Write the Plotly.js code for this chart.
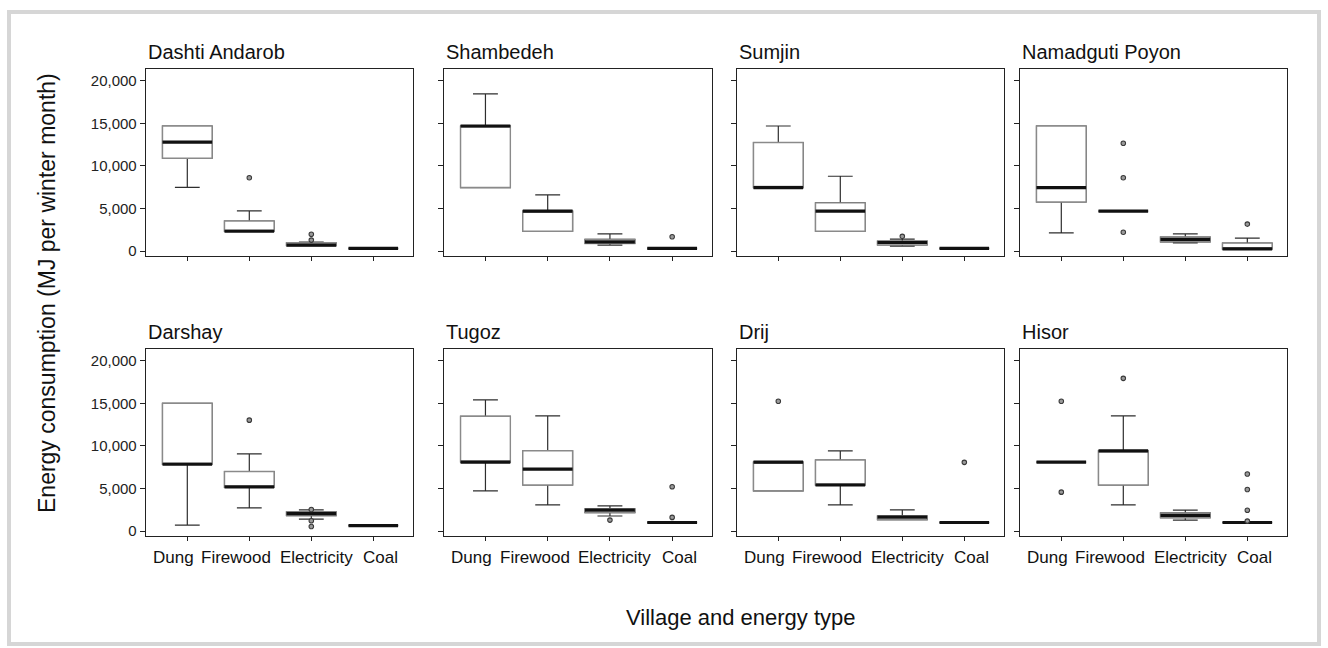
<!DOCTYPE html>
<html>
<head>
<meta charset="utf-8">
<script src="https://cdn.plot.ly/plotly-3.0.1.min.js"></script>
<style>html,body{margin:0;padding:0;background:#fff;}#chart{width:1328px;height:648px;}</style>
</head>
<body>
<div id="chart"></div>
<script>
// ---------- data ----------
const villages = ['Dashti Andarob','Shambedeh','Sumjin','Namadguti Poyon','Darshay','Tugoz','Drij','Hisor'];
const energyTypes = ['Dung','Firewood','Electricity','Coal'];
const yTickValues = [0, 5000, 10000, 15000, 20000];
const yTickLabels = ['0','5,000','10,000','15,000','20,000'];

// per village: [Dung, Firewood, Electricity, Coal]
const lowerWhisker = [
  [7480, 2320, 640, 300],
  [7450, 2320, 680, 300],
  [7450, 2320, 560, 300],
  [2120, 4680, 960, 240],
  [680, 2720, 1400, 640],
  [4720, 3080, 1760, 1000],
  [4720, 3080, 1320, 1000],
  [8090, 3080, 1280, 1000]
];
const quartile1 = [
  [10890, 2320, 640, 300],
  [7450, 2320, 880, 300],
  [7450, 2320, 720, 300],
  [5760, 4680, 1080, 240],
  [7840, 5120, 1800, 640],
  [8090, 5400, 2160, 1000],
  [4720, 5400, 1320, 1000],
  [8090, 5400, 1560, 1000]
];
const medians = [
  [12780, 2320, 680, 300],
  [14680, 4680, 1080, 300],
  [7450, 4680, 1000, 300],
  [7450, 4680, 1360, 240],
  [7840, 5180, 2040, 640],
  [8090, 7270, 2440, 1000],
  [8090, 5400, 1640, 1000],
  [8090, 9420, 1840, 1000]
];
const quartile3 = [
  [14680, 3520, 960, 300],
  [14680, 4680, 1360, 300],
  [12740, 5650, 1160, 300],
  [14680, 4680, 1640, 920],
  [15000, 6980, 2240, 640],
  [13470, 9420, 2600, 1000],
  [8090, 8340, 1760, 1000],
  [8090, 9420, 2120, 1000]
];
const upperWhisker = [
  [14680, 4720, 1040, 300],
  [18450, 6580, 2000, 300],
  [14680, 8780, 1400, 300],
  [14680, 4680, 2000, 1520],
  [15000, 9060, 2480, 640],
  [15400, 13510, 2960, 1000],
  [8090, 9420, 2480, 1000],
  [8090, 13510, 2440, 1000]
];
// outliers per village
const outlierTypes = [
  ['Firewood','Electricity','Electricity'],
  ['Coal'],
  ['Electricity'],
  ['Firewood','Firewood','Firewood','Coal'],
  ['Firewood','Electricity','Electricity','Electricity'],
  ['Electricity','Coal','Coal'],
  ['Dung','Coal'],
  ['Dung','Dung','Firewood','Coal','Coal','Coal','Coal']
];
const outlierValues = [
  [8600, 1280, 1960],
  [1680],
  [1720],
  [12660, 8600, 2200, 3160],
  [13020, 2520, 1200, 520],
  [1280, 1600, 5200],
  [15240, 8060],
  [15240, 4560, 17930, 6690, 4880, 2440, 1160]
];

// ---------- layout geometry (pixels) ----------
const W = 1328, H = 648;
const colPx = [[146,413],[444,712],[737,1004],[1020,1287]];
const rowPx = [[69,256],[349,536]];
const px = v => v / W;
const py = v => 1 - v / H;
const labelShift = [-14, -13, 5, 7];

const FONT = 'Liberation Sans, Arial, Helvetica, sans-serif';

const traces = [];
const layout = {
  width: W, height: H,
  margin: {l:0, r:0, t:0, b:0},
  paper_bgcolor: '#ffffff',
  plot_bgcolor: '#ffffff',
  showlegend: false,
  boxmode: 'overlay',
  font: {family: FONT, color: '#222'},
  annotations: [],
  shapes: [{
    type: 'rect', xref: 'paper', yref: 'paper',
    x0: px(9), x1: px(1319), y0: py(644), y1: py(12),
    line: {color: '#d6d6d6', width: 4}
  }]
};

villages.forEach((name, i) => {
  const r = Math.floor(i / 4), c = i % 4;
  const n = i + 1;
  const xa = n === 1 ? 'x' : 'x' + n;
  const ya = n === 1 ? 'y' : 'y' + n;
  const xKey = n === 1 ? 'xaxis' : 'xaxis' + n;
  const yKey = n === 1 ? 'yaxis' : 'yaxis' + n;

  layout[xKey] = {
    domain: [px(colPx[c][0]), px(colPx[c][1])],
    anchor: ya,
    type: 'category',
    categoryorder: 'array',
    categoryarray: energyTypes,
    range: [-0.666, 3.64],
    showline: true, mirror: true, linecolor: '#222', linewidth: 1.3,
    ticks: 'outside', ticklen: 4, tickcolor: '#222', tickwidth: 1,
    showgrid: false, zeroline: false,
    showticklabels: false,
    fixedrange: true
  };
  layout[yKey] = {
    domain: [py(rowPx[r][1]), py(rowPx[r][0])],
    anchor: xa,
    range: [-587, 21374],
    tickmode: 'array', tickvals: yTickValues, ticktext: yTickLabels,
    showline: true, mirror: true, linecolor: '#222', linewidth: 1.3,
    ticks: 'outside', ticklen: 5, tickcolor: '#222', tickwidth: 1,
    showgrid: false, zeroline: false,
    showticklabels: c === 0,
    tickfont: {family: FONT, size: 15, color: '#222'},
    fixedrange: true
  };

  // whiskers with caps (dark)
  traces.push({
    type: 'box', xaxis: xa, yaxis: ya,
    x: energyTypes,
    q1: quartile1[i], median: medians[i], q3: quartile3[i],
    lowerfence: lowerWhisker[i], upperfence: upperWhisker[i],
    width: 0.8, whiskerwidth: 0.5,
    boxpoints: false,
    fillcolor: 'rgba(255,255,255,0)',
    line: {color: '#2e2e2e', width: 1.2},
    hoverinfo: 'skip'
  });
  // box body (grey outline)
  traces.push({
    type: 'box', xaxis: xa, yaxis: ya,
    x: energyTypes,
    q1: quartile1[i], median: medians[i], q3: quartile3[i],
    lowerfence: quartile1[i], upperfence: quartile3[i],
    width: 0.8, whiskerwidth: 0,
    boxpoints: false,
    fillcolor: 'rgba(255,255,255,1)',
    line: {color: '#8a8a8a', width: 1.4},
    hoverinfo: 'skip'
  });
  // thick median bar
  traces.push({
    type: 'box', xaxis: xa, yaxis: ya,
    x: energyTypes,
    q1: medians[i], median: medians[i], q3: medians[i],
    lowerfence: medians[i], upperfence: medians[i],
    width: 0.8, whiskerwidth: 0,
    boxpoints: false,
    fillcolor: 'rgba(0,0,0,0)',
    line: {color: '#111', width: 3.2},
    hoverinfo: 'skip'
  });
  // outliers
  traces.push({
    type: 'scatter', mode: 'markers', xaxis: xa, yaxis: ya,
    x: outlierTypes[i], y: outlierValues[i],
    marker: {size: 4.5, color: '#9a9a9a', line: {color: '#3a3a3a', width: 1.1}},
    hoverinfo: 'skip'
  });

  // panel title
  layout.annotations.push({
    xref: 'paper', yref: 'paper',
    x: px(colPx[c][0]), y: py(r === 0 ? 52 : 332),
    xanchor: 'left', yanchor: 'middle',
    text: name, showarrow: false,
    font: {family: FONT, size: 20, color: '#111'}
  });

  // category labels under bottom row
  if (r === 1) {
    energyTypes.forEach((cat, k) => {
      layout.annotations.push({
        xref: xa, yref: 'paper',
        x: cat, y: py(557),
        xanchor: 'center', yanchor: 'middle',
        xshift: labelShift[k],
        text: cat, showarrow: false,
        font: {family: FONT, size: 17, color: '#111'}
      });
    });
  }
});

// axis titles
layout.annotations.push({
  xref: 'paper', yref: 'paper', x: px(47), y: py(293),
  xanchor: 'center', yanchor: 'middle', textangle: -90,
  text: 'Energy consumption (MJ per winter month)', showarrow: false,
  font: {family: FONT, size: 23, color: '#111'}
});
layout.annotations.push({
  xref: 'paper', yref: 'paper', x: px(741), y: py(617),
  xanchor: 'center', yanchor: 'middle',
  text: 'Village and energy type', showarrow: false,
  font: {family: FONT, size: 22, color: '#111'}
});

Plotly.newPlot('chart', traces, layout, {displayModeBar: false, staticPlot: true});
</script>
</body>
</html>
